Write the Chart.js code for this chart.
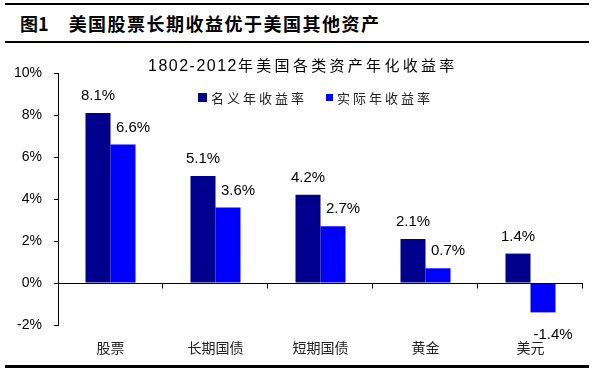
<!DOCTYPE html>
<html>
<head>
<meta charset="utf-8">
<script src="https://cdn.jsdelivr.net/npm/chart.js@4/dist/chart.umd.min.js"></script>
<style>
  html, body { margin: 0; padding: 0; background: #fff; }
  #wrap { position: relative; width: 595px; height: 375px; overflow: hidden; }
  .rule { position: absolute; left: 5px; width: 584px; height: 2px; background: #000; }
  #head { position: absolute; left: 20px; top: 10px; font: bold 18px "Noto Sans CJK SC", sans-serif; line-height: 26px; color: #000; white-space: nowrap; }
  #head .txt { margin-left: 20px; letter-spacing: 1.5px; }
  #ctitle { position: absolute; left: 148px; top: 54px; line-height: 22px; white-space: nowrap; color: #000; }
  #ctitle .num { font: 16px "Liberation Sans", Arial, sans-serif; letter-spacing: 1.5px; }
  #ctitle .cjk { font: 15px "Noto Sans CJK SC", sans-serif; letter-spacing: 3.3px; }
  .leg { position: absolute; top: 89px; font: 13px "Noto Sans CJK SC", sans-serif; line-height: 18px; letter-spacing: 3px; color: #222; white-space: nowrap; }
  .leg i { display: inline-block; vertical-align: middle; margin-right: 4px; margin-top: -3px; }
  canvas { position: absolute; left: 0; top: 0; }
</style>
</head>
<body>
<div id="wrap">
  <div class="rule" style="top:3px"></div>
  <div id="head">图1<span class="txt">美国股票长期收益优于美国其他资产</span></div>
  <div class="rule" style="top:41px"></div>
  <canvas id="chart" width="595" height="375"></canvas>
  <div id="ctitle"><span class="num">1802-2012</span><span class="cjk">年美国各类资产年化收益率</span></div>
  <div class="leg" id="leg1" style="left:198px"></div>
  <div class="leg" id="leg2" style="left:326px"></div>
  <div class="rule" style="top:365px; height:3px"></div>
</div>
<script>
// Data
const categories = ['股票', '长期国债', '短期国债', '黄金', '美元'];
const seriesNames = ['名义年收益率', '实际年收益率'];
const nominalReturn = [8.1, 5.1, 4.2, 2.1, 1.4];
const realReturn = [6.6, 3.6, 2.7, 0.7, -1.4];
const yTicks = [-2, 0, 2, 4, 6, 8, 10];

const colors = ['#00008C', '#0000FF'];

// legend (html)
document.getElementById('leg1').innerHTML =
    '<i style="width:9px;height:9px;background:' + colors[0] + '"></i>' + seriesNames[0];
document.getElementById('leg2').innerHTML =
    '<i style="width:7px;height:7px;background:' + colors[1] + '"></i>' + seriesNames[1];

// zero line + category ticks on it
const zeroAxis = {
    id: 'zeroAxis',
    afterDatasetsDraw(chart) {
        const { ctx, chartArea, scales } = chart;
        const y0 = Math.round(scales.y.getPixelForValue(0)) + 0.5;
        ctx.save();
        ctx.strokeStyle = '#000';
        ctx.lineWidth = 1;
        ctx.beginPath();
        ctx.moveTo(chartArea.left, y0);
        ctx.lineTo(chartArea.right, y0);
        for (let i = 0; i < categories.length; i++) {
            const x = Math.round(scales.x.getPixelForValue(i + 0.5)) - 0.5;
            ctx.moveTo(x, y0);
            ctx.lineTo(x, y0 + 5);
        }
        ctx.stroke();
        ctx.restore();
    }
};

// value labels
const valueLabels = {
    id: 'valueLabels',
    afterDatasetsDraw(chart) {
        const { ctx } = chart;
        ctx.save();
        ctx.font = '15px "Liberation Sans", Arial, sans-serif';
        ctx.fillStyle = '#000';
        ctx.textAlign = 'center';
        ctx.textBaseline = 'middle';
        chart.data.datasets.forEach((ds, di) => {
            const meta = chart.getDatasetMeta(di);
            meta.data.forEach((bar, i) => {
                const v = ds.data[i];
                const dx = di === 1 ? 10 : 0;
                const y = v >= 0 ? bar.y - 17 : bar.y + 22;
                ctx.fillText(v.toFixed(1) + '%', bar.x + dx, y);
            });
        });
        ctx.restore();
    }
};

new Chart(document.getElementById('chart'), {
    type: 'bar',
    data: {
        labels: categories,
        datasets: [
            { label: seriesNames[0], data: nominalReturn, backgroundColor: colors[0] },
            { label: seriesNames[1], data: realReturn, backgroundColor: colors[1] }
        ]
    },
    options: {
        responsive: false,
        animation: false,
        events: [],
        layout: { padding: { left: 0, top: 73, right: 12, bottom: 0 } },
        plugins: {
            legend: { display: false },
            title: { display: false },
            tooltip: { enabled: false }
        },
        datasets: {
            bar: { categoryPercentage: 50 / 105, barPercentage: 1 }
        },
        scales: {
            x: {
                grid: { display: false, drawTicks: false },
                border: { display: false },
                ticks: {
                    padding: 14,
                    color: '#222',
                    font: { family: '"Noto Sans CJK SC", sans-serif', size: 14 }
                },
                afterFit(scale) { scale.height = 50; }
            },
            y: {
                min: -2,
                max: 10,
                afterBuildTicks(scale) { scale.ticks = yTicks.map(v => ({ value: v })); },
                grid: { drawOnChartArea: false, tickLength: 4, color: '#000' },
                border: { display: true, color: '#000', width: 1 },
                ticks: {
                    padding: 12,
                    color: '#000',
                    font: { family: '"Liberation Sans", Arial, sans-serif', size: 14 },
                    callback: v => v + '%'
                },
                afterFit(scale) { scale.width = 58; }
            }
        }
    },
    plugins: [zeroAxis, valueLabels]
});
</script>
</body>
</html>
